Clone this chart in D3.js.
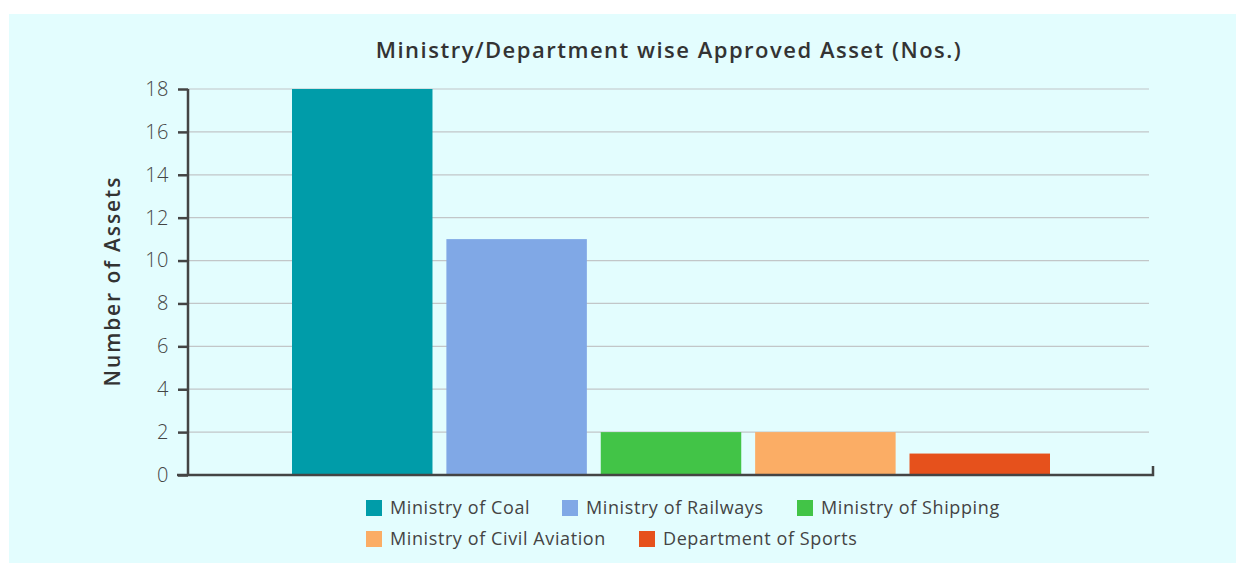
<!DOCTYPE html>
<html>
<head>
<meta charset="utf-8">
<script src="https://cdn.jsdelivr.net/npm/d3@7"></script>
<style>
  html, body { margin: 0; padding: 0; background: #fff; }
  svg { display: block; }
  text { font-family: "Open Sans", "Noto Sans", sans-serif; }
</style>
</head>
<body>
<div id="chart"></div>
<script>
const categories = ['Ministry of Coal', 'Ministry of Railways', 'Ministry of Shipping', 'Ministry of Civil Aviation', 'Department of Sports'];
const values = [18, 11, 2, 2, 1];
const colors = ['#009ca9', '#80a8e6', '#42c447', '#fbad65', '#e6511c'];
const yTicks = [0, 2, 4, 6, 8, 10, 12, 14, 16, 18];

const W = 1236, H = 563;
const svg = d3.select('#chart').append('svg').attr('width', W).attr('height', H);

// panel background
svg.append('rect').attr('x', 9).attr('y', 14).attr('width', W - 9).attr('height', H - 14).attr('fill', '#e3fdfe');

const x = d3.scaleBand().domain(categories).range([292, 1050]).paddingInner(0.09).paddingOuter(0);
const y = d3.scaleLinear().domain([0, 18]).range([475, 89]);

const axisLeftX = 188, plotRight = 1149;

// gridlines
svg.append('g').selectAll('line').data(yTicks.filter(d => d > 0)).join('line')
  .attr('x1', axisLeftX).attr('x2', plotRight)
  .attr('y1', d => y(d)).attr('y2', d => y(d))
  .attr('stroke', '#c2c6c8').attr('stroke-width', 1.2);

// bars
svg.append('g').selectAll('rect').data(categories).join('rect')
  .attr('x', d => x(d)).attr('width', x.bandwidth())
  .attr('y', (d, i) => y(values[i])).attr('height', (d, i) => y(0) - y(values[i]))
  .attr('fill', (d, i) => colors[i]);

// y axis
const yAxis = svg.append('g').attr('transform', `translate(${axisLeftX},0)`)
  .call(d3.axisLeft(y).tickValues(yTicks).tickSize(10).tickPadding(9));
yAxis.select('.domain').remove();
yAxis.append('line').attr('x1', 0).attr('x2', 0).attr('y1', y(18)).attr('y2', y(0))
  .attr('stroke', '#444').attr('stroke-width', 2.5);
yAxis.selectAll('.tick line').attr('stroke', '#444').attr('stroke-width', 2.5);
yAxis.selectAll('.tick text').attr('fill', '#444').style('font-size', '20px')
  .style('font-weight', 300).style('letter-spacing', '0.5px')
  .style('font-family', '"Open Sans", sans-serif');

// x axis baseline with end tick
svg.append('path')
  .attr('d', `M177,${y(0)}H1153V${y(0) - 9}`)
  .attr('fill', 'none').attr('stroke', '#444').attr('stroke-width', 2.5);

// title
svg.append('text').attr('x', 669).attr('y', 58).attr('text-anchor', 'middle')
  .attr('fill', '#333').style('font-size', '22px').style('font-weight', 600)
  .style('letter-spacing', '1.5px')
  .text('Ministry/Department wise Approved Asset (Nos.)');

// y label
svg.append('text').attr('transform', `translate(120,281) rotate(-90)`).attr('text-anchor', 'middle')
  .attr('fill', '#333').style('font-size', '21px').style('font-weight', 600)
  .style('letter-spacing', '1.9px')
  .text('Number of Assets');

// legend
const legendPos = [[366, 500], [562, 500], [797, 500], [366, 531], [639, 531]];
const lg = svg.append('g').selectAll('g').data(categories).join('g')
  .attr('transform', (d, i) => `translate(${legendPos[i][0]},${legendPos[i][1]})`);
lg.append('rect').attr('width', 16).attr('height', 16).attr('fill', (d, i) => colors[i]);
lg.append('text').attr('x', 24).attr('y', 14).attr('fill', '#444')
  .style('font-size', '18px').style('letter-spacing', '0.6px').text(d => d);
</script>
</body>
</html>
